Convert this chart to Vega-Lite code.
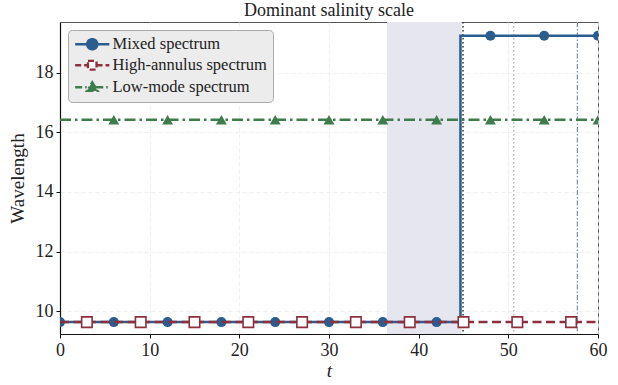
{
  "$schema": "https://vega.github.io/schema/vega-lite/v6.json",
  "width": 538,
  "height": 312,
  "autosize": {"type": "none"},
  "padding": {"left": 60, "top": 22, "right": 20, "bottom": 51},
  "background": "white",
  "title": {
    "text": "Dominant salinity scale",
    "font": "Liberation Serif",
    "fontSize": 18,
    "fontWeight": "normal",
    "color": "#222",
    "offset": 1
  },
  "datasets": {
    "lines": [
      {"series": "Mixed spectrum", "t": 0, "wl": 9.63},
      {"series": "Mixed spectrum", "t": 6, "wl": 9.63},
      {"series": "Mixed spectrum", "t": 12, "wl": 9.63},
      {"series": "Mixed spectrum", "t": 18, "wl": 9.63},
      {"series": "Mixed spectrum", "t": 24, "wl": 9.63},
      {"series": "Mixed spectrum", "t": 30, "wl": 9.63},
      {"series": "Mixed spectrum", "t": 36, "wl": 9.63},
      {"series": "Mixed spectrum", "t": 42, "wl": 9.63},
      {"series": "Mixed spectrum", "t": 44.66, "wl": 19.25},
      {"series": "Mixed spectrum", "t": 48, "wl": 19.25},
      {"series": "Mixed spectrum", "t": 54, "wl": 19.25},
      {"series": "Mixed spectrum", "t": 60, "wl": 19.25},
      {"series": "High-annulus spectrum", "t": 0, "wl": 9.63},
      {"series": "High-annulus spectrum", "t": 3, "wl": 9.63},
      {"series": "High-annulus spectrum", "t": 9, "wl": 9.63},
      {"series": "High-annulus spectrum", "t": 15, "wl": 9.63},
      {"series": "High-annulus spectrum", "t": 21, "wl": 9.63},
      {"series": "High-annulus spectrum", "t": 27, "wl": 9.63},
      {"series": "High-annulus spectrum", "t": 33, "wl": 9.63},
      {"series": "High-annulus spectrum", "t": 39, "wl": 9.63},
      {"series": "High-annulus spectrum", "t": 45, "wl": 9.63},
      {"series": "High-annulus spectrum", "t": 51, "wl": 9.63},
      {"series": "High-annulus spectrum", "t": 57, "wl": 9.63},
      {"series": "High-annulus spectrum", "t": 60, "wl": 9.63},
      {"series": "Low-mode spectrum", "t": 0, "wl": 16.43},
      {"series": "Low-mode spectrum", "t": 6, "wl": 16.43},
      {"series": "Low-mode spectrum", "t": 12, "wl": 16.43},
      {"series": "Low-mode spectrum", "t": 18, "wl": 16.43},
      {"series": "Low-mode spectrum", "t": 24, "wl": 16.43},
      {"series": "Low-mode spectrum", "t": 30, "wl": 16.43},
      {"series": "Low-mode spectrum", "t": 36, "wl": 16.43},
      {"series": "Low-mode spectrum", "t": 42, "wl": 16.43},
      {"series": "Low-mode spectrum", "t": 48, "wl": 16.43},
      {"series": "Low-mode spectrum", "t": 54, "wl": 16.43},
      {"series": "Low-mode spectrum", "t": 60, "wl": 16.43}
    ],
    "band": [{"t0": 36.47, "t1": 44.8}],
    "rules": [
      {"kind": "a", "t": 44.95},
      {"kind": "b", "t": 50.6},
      {"kind": "c", "t": 57.7}
    ],
    "legendrows": [
      {"series": "Mixed spectrum"},
      {"series": "High-annulus spectrum"},
      {"series": "Low-mode spectrum"}
    ]
  },
  "layer": [
    {
      "data": {"name": "band"},
      "mark": {"type": "rect", "fill": "#e6e6ef"},
      "encoding": {
        "x": {
          "field": "t0", "type": "quantitative",
          "scale": {"domain": [0, 60], "nice": false, "zero": false},
          "axis": {"title": "t", "values": [0, 10, 20, 30, 40, 50, 60], "titleFontStyle": "italic"}
        },
        "x2": {"field": "t1"}
      }
    },
    {
      "data": {"name": "rules"},
      "transform": [{"filter": "datum.kind == 'a'"}],
      "mark": {"type": "rule", "color": "#333333", "strokeWidth": 1.5, "strokeDash": [1.5, 2.5]},
      "encoding": {"x": {"field": "t", "type": "quantitative"}}
    },
    {
      "data": {"name": "rules"},
      "transform": [{"filter": "datum.kind == 'b'"}],
      "mark": {"type": "rule", "color": "#a5b5a5", "strokeWidth": 1.3, "strokeDash": [1.5, 2.5]},
      "encoding": {"x": {"field": "t", "type": "quantitative"}}
    },
    {
      "data": {"name": "rules"},
      "transform": [{"filter": "datum.kind == 'c'"}],
      "mark": {"type": "rule", "color": "#8595ad", "strokeWidth": 1.3, "strokeDash": [5, 2, 1.5, 2]},
      "encoding": {"x": {"field": "t", "type": "quantitative"}}
    },
    {
      "data": {"name": "lines"},
      "transform": [{"filter": "datum.series == 'Mixed spectrum'"}],
      "mark": {"type": "line", "interpolate": "step-after", "color": "#2c5d8f", "strokeWidth": 2.5, "clip": true},
      "encoding": {
        "x": {"field": "t", "type": "quantitative"},
        "y": {
          "field": "wl", "type": "quantitative",
          "scale": {"domain": [9.23, 19.71], "nice": false, "zero": false},
          "axis": {"title": "Wavelength", "values": [10, 12, 14, 16, 18]}
        }
      }
    },
    {
      "data": {"name": "lines"},
      "transform": [{"filter": "datum.series == 'Mixed spectrum' && datum.t != 44.66"}],
      "mark": {"type": "point", "shape": "circle", "filled": true, "opacity": 1, "color": "#2c5d8f", "size": 100, "clip": true},
      "encoding": {
        "x": {"field": "t", "type": "quantitative"},
        "y": {"field": "wl", "type": "quantitative"}
      }
    },
    {
      "data": {"name": "lines"},
      "transform": [{"filter": "datum.series == 'High-annulus spectrum'"}],
      "mark": {"type": "line", "color": "#8c2f3f", "strokeWidth": 2.5, "strokeDash": [9, 4.5], "clip": true},
      "encoding": {
        "x": {"field": "t", "type": "quantitative"},
        "y": {"field": "wl", "type": "quantitative"}
      }
    },
    {
      "data": {"name": "lines"},
      "transform": [{"filter": "datum.series == 'High-annulus spectrum' && datum.t > 0 && datum.t < 60"}],
      "mark": {"type": "point", "shape": "square", "filled": false, "fill": "white", "fillOpacity": 1, "opacity": 1, "stroke": "#8c2f3f", "strokeWidth": 1.6, "size": 110, "clip": true},
      "encoding": {
        "x": {"field": "t", "type": "quantitative"},
        "y": {"field": "wl", "type": "quantitative"}
      }
    },
    {
      "data": {"name": "lines"},
      "transform": [{"filter": "datum.series == 'Low-mode spectrum'"}],
      "mark": {"type": "line", "color": "#3e7d4b", "strokeWidth": 2.5, "strokeDash": [11, 4, 2.5, 4], "clip": true},
      "encoding": {
        "x": {"field": "t", "type": "quantitative"},
        "y": {"field": "wl", "type": "quantitative"}
      }
    },
    {
      "data": {"name": "lines"},
      "transform": [{"filter": "datum.series == 'Low-mode spectrum' && datum.t > 0"}],
      "mark": {"type": "point", "shape": "triangle-up", "filled": true, "opacity": 1, "color": "#3e7d4b", "size": 120, "clip": true},
      "encoding": {
        "x": {"field": "t", "type": "quantitative"},
        "y": {"field": "wl", "type": "quantitative"}
      }
    },
    {
      "data": {"name": "legendrows"},
      "mark": {"type": "point", "opacity": 0, "filled": true},
      "encoding": {
        "shape": {
          "field": "series", "type": "nominal", "title": null,
          "scale": {
            "domain": ["Mixed spectrum", "High-annulus spectrum", "Low-mode spectrum"],
            "range": [
              "M-3,0H-0.9M0.9,0H3M-0.9,0A0.9,0.9,0,1,1,0.9,0A0.9,0.9,0,1,1,-0.9,0Z",
              "M-3,0H-0.75M0.75,0H3M-0.75,-0.75H0.75V0.75H-0.75Z",
              "M-3,0H-0.7M0.7,0H3M0,-0.9L0.95,0.65H-0.95Z"
            ]
          }
        },
        "stroke": {
          "field": "series", "type": "nominal", "title": null,
          "scale": {
            "domain": ["Mixed spectrum", "High-annulus spectrum", "Low-mode spectrum"],
            "range": ["#2c5d8f", "#8c2f3f", "#3e7d4b"]
          }
        },
        "fill": {
          "field": "series", "type": "nominal", "title": null,
          "scale": {
            "domain": ["Mixed spectrum", "High-annulus spectrum", "Low-mode spectrum"],
            "range": ["#2c5d8f", "#ffffff", "#3e7d4b"]
          }
        },
        "strokeDash": {
          "field": "series", "type": "nominal", "title": null,
          "scale": {
            "domain": ["Mixed spectrum", "High-annulus spectrum", "Low-mode spectrum"],
            "range": [[1, 0], [6, 3], [7, 3, 1.5, 3]]
          }
        }
      }
    }
  ],
  "config": {
    "view": {"stroke": "#555555", "strokeWidth": 1},
    "axis": {
      "labelFont": "Liberation Serif",
      "labelFontSize": 18,
      "labelColor": "#222",
      "titleFont": "Liberation Serif",
      "titleFontSize": 19,
      "titleFontWeight": "normal",
      "titleColor": "#222",
      "domainColor": "#111",
      "domainWidth": 1.2,
      "tickColor": "#111",
      "tickSize": 4,
      "labelPadding": 3,
      "grid": true,
      "gridColor": "#ebebeb",
      "gridDash": [4, 3],
      "gridWidth": 0.8
    },
    "axisX": {"titlePadding": 2, "labelFlush": false},
    "axisY": {"titlePadding": 8},
    "legend": {
      "orient": "top-left",
      "offset": 8,
      "fillColor": "#ececec",
      "strokeColor": "#aaaaaa",
      "cornerRadius": 4,
      "padding": 6,
      "labelFont": "Liberation Serif",
      "labelFontSize": 16.5,
      "labelColor": "#222",
      "symbolSize": 130,
      "symbolStrokeWidth": 2.3,
      "symbolOpacity": 1,
      "rowPadding": 2,
      "labelOffset": 12,
      "symbolOffset": 10
    }
  }
}
